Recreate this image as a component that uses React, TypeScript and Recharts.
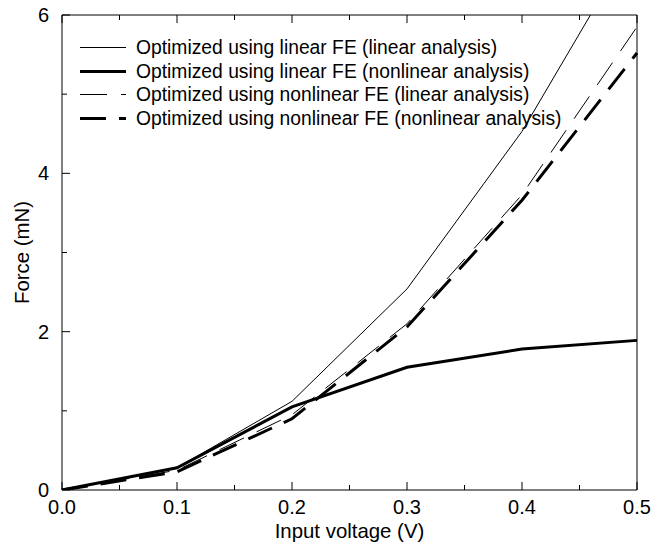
import { LineChart, Line, XAxis, YAxis, Legend } from 'recharts'

// input voltage (V)
const VOLTAGE = [0, 0.1, 0.2, 0.3, 0.4, 0.5]

// force (mN) per design / analysis combination
const LIN_FE_LIN = [0, 0.28, 1.12, 2.54, 4.53, 7.0]
const LIN_FE_NONLIN = [0, 0.28, 1.05, 1.55, 1.78, 1.89]
const NONLIN_FE_LIN = [0, 0.25, 0.95, 2.1, 3.73, 5.85]
const NONLIN_FE_NONLIN = [0, 0.23, 0.9, 2.06, 3.66, 5.52]

const X_TICKS = [0, 0.1, 0.2, 0.3, 0.4, 0.5]
const X_ALL_TICKS = [0, 0.05, 0.1, 0.15, 0.2, 0.25, 0.3, 0.35, 0.4, 0.45, 0.5]
const Y_TICKS = [0, 2, 4, 6]
const Y_ALL_TICKS = [0, 1, 2, 3, 4, 5, 6]

const SERIES = [
    { key: 'linLin', name: 'Optimized using linear FE (linear analysis)', width: 1, dash: undefined },
    { key: 'linNon', name: 'Optimized using linear FE (nonlinear analysis)', width: 3, dash: undefined },
    { key: 'nonLin', name: 'Optimized using nonlinear FE (linear analysis)', width: 1, dash: '27 14' },
    { key: 'nonNon', name: 'Optimized using nonlinear FE (nonlinear analysis)', width: 3, dash: '26 13' }
]

const data = VOLTAGE.map((v, i) => ({
    v,
    linLin: LIN_FE_LIN[i],
    linNon: LIN_FE_NONLIN[i],
    nonLin: NONLIN_FE_LIN[i],
    nonNon: NONLIN_FE_NONLIN[i]
}))

const FONT = '"Liberation Sans", Arial, sans-serif'
const MAJOR_LEN = 8
const MINOR_LEN = 5

const isMajor = (v: number, majors: number[]) => majors.some(m => Math.abs(m - v) < 1e-9)

// Tick marks point into the plot; (x, y) is the point on the axis line
function BottomTick({ x, y, payload }: any) {
    const major = isMajor(payload.value, X_TICKS)
    return (
        <g>
            <line x1={x} y1={y} x2={x} y2={y - (major ? MAJOR_LEN : MINOR_LEN)} stroke="#000" />
            {major && (
                <text x={x} y={y + 24} textAnchor="middle" fontSize={20} fontFamily={FONT} fill="#000">
                    {payload.value.toFixed(1)}
                </text>
            )}
        </g>
    )
}

function TopTick({ x, y, payload }: any) {
    const major = isMajor(payload.value, X_TICKS)
    return <line x1={x} y1={y} x2={x} y2={y + (major ? MAJOR_LEN : MINOR_LEN)} stroke="#000" />
}

function LeftTick({ x, y, payload }: any) {
    const major = isMajor(payload.value, Y_TICKS)
    return (
        <g>
            <line x1={x} y1={y} x2={x + (major ? MAJOR_LEN : MINOR_LEN)} y2={y} stroke="#000" />
            {major && (
                <text x={x - 13} y={y + 7} textAnchor="end" fontSize={20} fontFamily={FONT} fill="#000">
                    {payload.value}
                </text>
            )}
        </g>
    )
}

function RightTick({ x, y, payload }: any) {
    const major = isMajor(payload.value, Y_TICKS)
    return <line x1={x} y1={y} x2={x - (major ? MAJOR_LEN : MINOR_LEN)} y2={y} stroke="#000" />
}

function LegendBox() {
    return (
        <div style={{ fontFamily: FONT, fontSize: 19.3, color: '#000' }}>
            {SERIES.map(s => (
                <div key={s.key} style={{ display: 'flex', alignItems: 'center', height: 23.5 }}>
                    <svg width={46} height={23} style={{ flex: 'none' }}>
                        <line x1={0} y1={11.5} x2={46} y2={11.5} stroke="#000"
                            strokeWidth={s.width} strokeDasharray={s.dash} />
                    </svg>
                    <span style={{ marginLeft: 10, whiteSpace: 'nowrap', lineHeight: '23px' }}>{s.name}</span>
                </div>
            ))}
        </div>
    )
}

export default function App() {
    return (
        <div style={{ position: 'absolute', left: 0, top: 0, width: 653, height: 547, background: '#fff' }}>
            <LineChart width={653} height={547} data={data} margin={{ top: 14, right: 15, left: 0, bottom: 0 }}>
                <XAxis xAxisId="x" dataKey="v" type="number" domain={[0, 0.5]} ticks={X_ALL_TICKS}
                    interval={0} height={57} stroke="#000" tickLine={false} tickSize={0} tickMargin={0}
                    tick={<BottomTick />}
                    label={{ value: 'Input voltage (V)', position: 'insideBottom', offset: 9, fontSize: 20.4, fill: '#000', fontFamily: FONT }} />
                <XAxis xAxisId="top" dataKey="v" type="number" domain={[0, 0.5]} ticks={X_ALL_TICKS}
                    interval={0} orientation="top" height={1} stroke="#000" tickLine={false} tickSize={0} tickMargin={0}
                    tick={<TopTick />} />

                <YAxis yAxisId="y" type="number" domain={[0, 6]} ticks={Y_ALL_TICKS} allowDataOverflow
                    interval={0} width={62} stroke="#000" tickLine={false} tickSize={0} tickMargin={0}
                    tick={<LeftTick />}
                    label={{ value: 'Force (mN)', angle: -90, position: 'insideLeft', offset: 22, fontSize: 20.4, fill: '#000', fontFamily: FONT, style: { textAnchor: 'middle' } }} />
                <YAxis yAxisId="right" type="number" domain={[0, 6]} ticks={Y_ALL_TICKS} orientation="right"
                    interval={0} width={1} stroke="#000" tickLine={false} tickSize={0} tickMargin={0}
                    tick={<RightTick />} />

                <Legend layout="vertical" align="center" verticalAlign="middle" content={() => <LegendBox />}
                    wrapperStyle={{ left: 80, top: 36, width: 'auto' }} />

                {SERIES.map(s => (
                    <Line key={s.key} xAxisId="x" yAxisId="y" dataKey={s.key} name={s.name} type="linear"
                        stroke="#000" strokeWidth={s.width} strokeDasharray={s.dash} dot={false}
                        activeDot={false} isAnimationActive={false} />
                ))}
            </LineChart>
        </div>
    )
}
